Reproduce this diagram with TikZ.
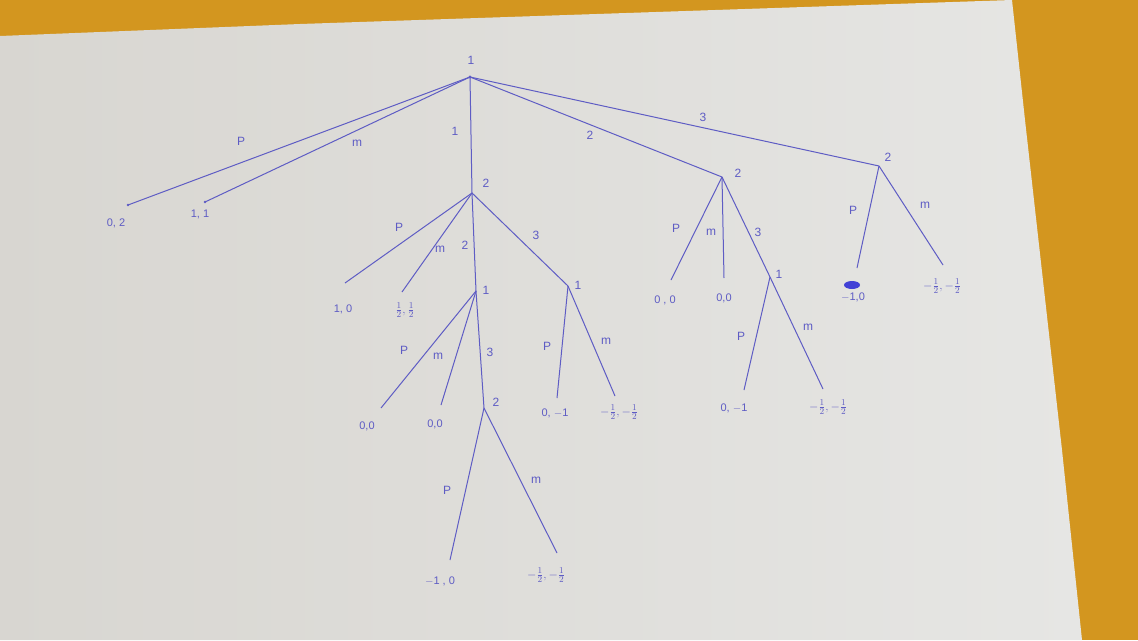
\documentclass[tikz,border=0pt]{standalone}
\usepackage{amsmath}
\usepackage{fontspec}
\setmainfont{Liberation Sans}
\definecolor{inkc}{HTML}{5E5CC4}
\definecolor{tablec}{HTML}{D3961F}
\definecolor{paperl}{HTML}{D8D6D1}
\definecolor{paperr}{HTML}{E6E6E4}
\begin{document}
\begin{tikzpicture}[x=1pt,y=-1pt,
  edge/.style={draw=inkc, line width=1pt},
  lab/.style={text=inkc, font=\fontsize{12}{13}\selectfont, inner sep=0pt},
  pay/.style={text=inkc, font=\fontsize{11}{12}\selectfont, inner sep=0pt},
  frac/.style={text=inkc, font=\fontsize{13}{14}\selectfont, inner sep=0pt}]
\useasboundingbox (0,0) rectangle (1138,640);
% background: table and paper
\fill[tablec] (0,0) rectangle (1138,640);
\shade[left color=paperl, right color=paperr]
  (0,36) -- (300,24) -- (1012,0) -- (1025,120) -- (1062,450) -- (1082,640) -- (0,640) -- cycle;

% decision nodes and leaves
\coordinate (R) at (470,77);
\coordinate (L02) at (128,205);
\coordinate (L11) at (205,202);
\coordinate (A) at (472,193);
\coordinate (B) at (722,177);
\coordinate (C) at (879,166);
\coordinate (A1) at (345,283);
\coordinate (A2) at (402,292);
\coordinate (D) at (476,291);
\coordinate (E) at (568,286);
\coordinate (D1) at (381,408);
\coordinate (D2) at (441,405);
\coordinate (F) at (484,408);
\coordinate (F1) at (450,560);
\coordinate (F2) at (557,553);
\coordinate (E1) at (557,398);
\coordinate (E2) at (615,396);
\coordinate (B1) at (671,280);
\coordinate (B2) at (724,278);
\coordinate (G) at (770,277);
\coordinate (G1) at (744,390);
\coordinate (G2) at (823,389);
\coordinate (C1) at (857,268);
\coordinate (C2) at (943,265);

% edges
\draw[edge] (R) -- (L02);
\draw[edge] (R) -- (L11);
\draw[edge] (R) -- (A);
\draw[edge] (R) -- (B);
\draw[edge] (R) -- (C);
\draw[edge] (A) -- (A1);
\draw[edge] (A) -- (A2);
\draw[edge] (A) -- (D);
\draw[edge] (A) -- (E);
\draw[edge] (D) -- (D1);
\draw[edge] (D) -- (D2);
\draw[edge] (D) -- (F);
\draw[edge] (F) -- (F1);
\draw[edge] (F) -- (F2);
\draw[edge] (E) -- (E1);
\draw[edge] (E) -- (E2);
\draw[edge] (B) -- (B1);
\draw[edge] (B) -- (B2);
\draw[edge] (B) -- (G);
\draw[edge] (G) -- (G1);
\draw[edge] (G) -- (G2);
\draw[edge] (C) -- (C1);
\draw[edge] (C) -- (C2);
\fill[inkc] (R) circle (1.6) (L02) circle (1.4) (L11) circle (1.4);

% player labels
\node[lab] (pR) at (471,60) {1};
\node[lab] (pA) at (486,183) {2};
\node[lab] (pB) at (738,173) {2};
\node[lab] (pC) at (888,157) {2};
\node[lab] (pD) at (486,290) {1};
\node[lab] (pE) at (578,285) {1};
\node[lab] (pF) at (496,402) {2};
\node[lab] (pG) at (779,274) {1};

% action labels
\node[lab] (eP) at (241,141) {P};
\node[lab] (em) at (357,143) {m};
\node[lab] (e1) at (455,131) {1};
\node[lab] (e2) at (590,135) {2};
\node[lab] (e3) at (703,117) {3};
\node[lab] (aP) at (399,227) {P};
\node[lab] (am) at (440,249) {m};
\node[lab] (a2) at (465,245) {2};
\node[lab] (a3) at (536,235) {3};
\node[lab] (dP) at (404,350) {P};
\node[lab] (dm) at (438,356) {m};
\node[lab] (d3) at (490,352) {3};
\node[lab] (fP) at (447,490) {P};
\node[lab] (fm) at (536,480) {m};
\node[lab] (xP) at (547,346) {P};
\node[lab] (xm) at (606,341) {m};
\node[lab] (bP) at (676,228) {P};
\node[lab] (bm) at (711,232) {m};
\node[lab] (b3) at (758,232) {3};
\node[lab] (gP) at (741,336) {P};
\node[lab] (gm) at (808,327) {m};
\node[lab] (cP) at (853,210) {P};
\node[lab] (cm) at (925,205) {m};

% payoffs
\node[pay] (v1) at (116,223) {0, 2};
\node[pay] (v2) at (200,214) {1, 1};
\node[pay] (v3) at (343,309) {1, 0};
\node[frac] (v4) at (405,310) {$\tfrac12,\tfrac12$};
\node[pay] (v5) at (367,426) {0,0};
\node[pay] (v6) at (435,424) {0,0};
\node[pay] (v7) at (440,581) {$-$1 , 0};
\node[frac] (v8) at (546,575) {$-\tfrac12,-\tfrac12$};
\node[pay] (v9) at (555,413) {0, $-$1};
\node[frac] (v10) at (619,412) {$-\tfrac12,-\tfrac12$};
\node[pay] (v11) at (665,300) {0 , 0};
\node[pay] (v12) at (724,298) {0,0};
\node[pay] (v13) at (734,408) {0, $-$1};
\node[frac] (v14) at (828,407) {$-\tfrac12,-\tfrac12$};
\fill[inkc!70!blue] (852,285) ellipse (8 and 4);
\node[pay] (v15) at (853,297) {$-$1,0};
\node[frac] (v16) at (942,286) {$-\tfrac12,-\tfrac12$};
\end{tikzpicture}
\end{document}
